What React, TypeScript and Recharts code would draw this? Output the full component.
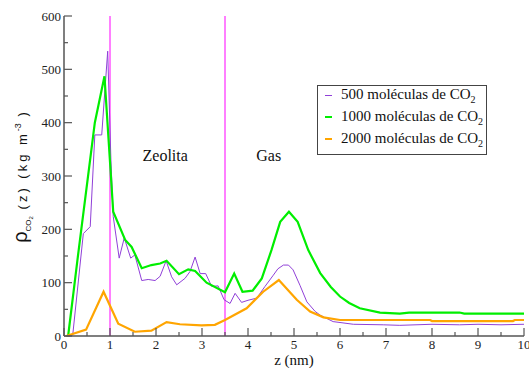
import React from 'react';
import { LineChart, Line, XAxis, YAxis, ReferenceLine, ReferenceDot, Legend, Label } from 'recharts';

const xTicks = [0, 0.5, 1, 1.5, 2, 2.5, 3, 3.5, 4, 4.5, 5, 5.5, 6, 6.5, 7, 7.5, 8, 8.5, 9, 9.5, 10];
const yTicks = [0, 50, 100, 150, 200, 250, 300, 350, 400, 450, 500, 550, 600];

const zeoliteBounds = [1, 3.5];

const s500X = [0.1, 0.19, 0.42, 0.57, 0.67, 0.82, 0.95, 1.02, 1.07, 1.2, 1.31, 1.45, 1.54, 1.69, 1.83, 1.98, 2.09, 2.22, 2.34, 2.45, 2.63, 2.74, 2.85, 2.96, 3.08, 3.21, 3.35, 3.48, 3.61, 3.72, 3.86, 4.0, 4.19, 4.37, 4.55, 4.65, 4.77, 4.88, 4.98, 5.13, 5.28, 5.46, 5.57, 5.85, 6.29, 6.94, 7.3, 8.0, 8.6, 9.0, 9.5, 10];
const s500Y = [0, 2, 192, 205, 377, 377, 534, 330, 224, 146, 184, 146, 152, 104, 106, 104, 112, 141, 111, 96, 108, 121, 148, 117, 117, 93, 94, 68, 61, 80, 63, 67, 71, 93, 114, 126, 133, 133, 124, 95, 64, 46, 39, 27, 22, 21, 20, 22, 21, 22, 21, 22];

const s1000X = [0.09, 0.3, 0.67, 0.88, 1.07, 1.33, 1.47, 1.69, 1.9, 2.09, 2.23, 2.5, 2.7, 2.85, 3.1, 3.5, 3.7, 3.88, 4.1, 4.3, 4.51, 4.7, 4.89, 5.08, 5.31, 5.57, 5.8, 6.0, 6.2, 6.43, 6.87, 7.3, 7.5, 8.6, 8.7, 10];
const s1000Y = [0, 148, 400, 487, 233, 180, 167, 127, 133, 136, 141, 116, 125, 122, 100, 82, 117, 83, 85, 108, 161, 214, 233, 214, 161, 118, 92, 74, 62, 52, 44, 42, 44, 44, 42, 42];

const s2000X = [0.05, 0.48, 0.86, 1.18, 1.54, 1.9, 2.23, 2.52, 2.99, 3.28, 3.5, 3.97, 4.33, 4.67, 5.06, 5.35, 5.64, 6.0, 7.96, 8.0, 9.76, 9.8, 10];
const s2000Y = [0, 12, 83, 23, 8, 10, 26, 22, 20, 21, 30, 52, 83, 105, 68, 46, 35, 30, 30, 28, 28, 30, 30];

const seriesNames = ['500 moléculas de CO', '1000 moléculas de CO', '2000 moléculas de CO'];
const seriesColors = ['#9040d8', '#00ee00', '#ffa500'];

const toPoints = (xs: number[], ys: number[]) => xs.map((x, i) => ({ x, y: ys[i] }));
const d500 = toPoints(s500X, s500Y);
const d1000 = toPoints(s1000X, s1000Y);
const d2000 = toPoints(s2000X, s2000Y);

const AX = '#555';
const SERIF = 'Liberation Serif, Times New Roman, serif';
const SANS = 'Liberation Sans, Arial, sans-serif';

const BottomTick = (p: any) => {
  const v = p.payload.value;
  const major = Number.isInteger(v);
  return (
    <g>
      <line x1={p.x} x2={p.x} y1={p.y} y2={p.y - (major ? 8 : 4)} stroke={AX} strokeWidth={1.2} />
      {major && (
        <text x={p.x} y={p.y + 13} textAnchor="middle" fontFamily={SERIF} fontSize={13} fill="#222">{v}</text>
      )}
    </g>
  );
};
const TopTick = (p: any) => {
  const major = Number.isInteger(p.payload.value);
  return <line x1={p.x} x2={p.x} y1={p.y} y2={p.y + (major ? 8 : 4)} stroke={AX} strokeWidth={1.2} />;
};
const LeftTick = (p: any) => {
  const v = p.payload.value;
  const major = v % 100 === 0;
  return (
    <g>
      <line x1={p.x} x2={p.x + (major ? 8 : 4)} y1={p.y} y2={p.y} stroke={AX} strokeWidth={1.2} />
      {major && (
        <text x={p.x - 3} y={p.y + 4.5} textAnchor="end" fontFamily={SERIF} fontSize={13} fill="#222">{v}</text>
      )}
    </g>
  );
};
const RightTick = (p: any) => {
  const major = p.payload.value % 100 === 0;
  return <line x1={p.x} x2={p.x - (major ? 8 : 4)} y1={p.y} y2={p.y} stroke={AX} strokeWidth={1.2} />;
};

const YLabel = () => (
  <text transform="translate(27,176) rotate(-90)" textAnchor="middle" fontFamily={SANS} fill="#111">
    <tspan fontSize={20}>ρ</tspan>
    <tspan fontSize={8} dy={4}>CO</tspan>
    <tspan fontSize={6} dy={2}>2</tspan>
    <tspan fontSize={13} dy={-6} letterSpacing={3}>{' (z)  (kg m'}</tspan>
    <tspan fontSize={9} dy={-6}>-3</tspan>
    <tspan fontSize={13} dy={6} letterSpacing={3}>{' )'}</tspan>
  </text>
);

const XLabel = (p: any) => {
  const vb = p.viewBox || {};
  const cx = (vb.x || 64) + (vb.width || 460) / 2;
  return (
    <text x={cx} y={365} textAnchor="middle" fontFamily={SERIF} fontSize={15} fill="#111">z (nm)</text>
  );
};

const AnnoLabel = (text: string) => (p: any) => {
  const vb = p.viewBox || {};
  return (
    <text x={vb.x} y={vb.y + 6} textAnchor="middle" fontFamily={SERIF} fontSize={16} fill="#111">{text}</text>
  );
};

const LegendBox = () => (
  <div
    style={{
      border: '1px solid #444',
      background: '#fff',
      width: 170,
      height: 70,
      boxSizing: 'border-box',
      padding: '0 0 0 7px',
      fontFamily: SERIF,
      fontSize: 15,
      color: '#111',
    }}
  >
    <div style={{ marginTop: -2 }}>
      {seriesNames.map((n, i) => (
        <div key={n} style={{ display: 'flex', alignItems: 'center', height: 22, whiteSpace: 'nowrap' }}>
          <span style={{ display: 'inline-block', width: 7, height: i === 0 ? 1 : 2, background: seriesColors[i], marginRight: 9 }} />
          <span>
            {n}
            <sub style={{ fontSize: 10, verticalAlign: -4 }}>2</sub>
          </span>
        </div>
      ))}
    </div>
  </div>
);

export default function App() {
  return (
    <div style={{ position: 'absolute', left: 0, top: 0, background: '#fff' }}>
      <LineChart width={529} height={368} margin={{ top: 16, right: 5, bottom: 0, left: 0 }}>
        <XAxis
          xAxisId="b"
          type="number"
          dataKey="x"
          domain={[0, 10]}
          ticks={xTicks}
          interval={0}
          height={32}
          tickSize={0}
          tickMargin={0}
          tickLine={false}
          axisLine={{ stroke: AX, strokeWidth: 1.5 }}
          tick={<BottomTick />}
          allowDataOverflow
        >
          <Label content={<XLabel />} />
        </XAxis>
        <XAxis
          xAxisId="t"
          orientation="top"
          type="number"
          dataKey="x"
          domain={[0, 10]}
          ticks={xTicks}
          interval={0}
          height={0}
          tickSize={0}
          tickMargin={0}
          tickLine={false}
          axisLine={{ stroke: AX, strokeWidth: 1.5 }}
          tick={<TopTick />}
        />
        <YAxis
          yAxisId="l"
          type="number"
          domain={[0, 600]}
          ticks={yTicks}
          interval={0}
          width={64}
          tickSize={0}
          tickMargin={0}
          tickLine={false}
          axisLine={{ stroke: AX, strokeWidth: 1.5 }}
          tick={<LeftTick />}
          label={<YLabel />}
        />
        <YAxis
          yAxisId="r"
          orientation="right"
          type="number"
          domain={[0, 600]}
          ticks={yTicks}
          interval={0}
          width={0}
          tickSize={0}
          tickMargin={0}
          tickLine={false}
          axisLine={{ stroke: AX, strokeWidth: 1.5 }}
          tick={<RightTick />}
        />
        {zeoliteBounds.map((b) => (
          <ReferenceLine key={b} xAxisId="b" yAxisId="l" x={b} stroke="#ff00ff" strokeWidth={1} />
        ))}
        <Line xAxisId="b" yAxisId="l" data={d500} dataKey="y" name={seriesNames[0]} stroke={seriesColors[0]} strokeWidth={1} dot={false} isAnimationActive={false} />
        <Line xAxisId="b" yAxisId="l" data={d1000} dataKey="y" name={seriesNames[1]} stroke={seriesColors[1]} strokeWidth={2.2} dot={false} isAnimationActive={false} />
        <Line xAxisId="b" yAxisId="l" data={d2000} dataKey="y" name={seriesNames[2]} stroke={seriesColors[2]} strokeWidth={2.2} dot={false} isAnimationActive={false} />
        <ReferenceDot xAxisId="b" yAxisId="l" x={2.2} y={340} r={0} stroke="none" fill="none">
          <Label content={AnnoLabel('Zeolita')} />
        </ReferenceDot>
        <ReferenceDot xAxisId="b" yAxisId="l" x={4.45} y={340} r={0} stroke="none" fill="none">
          <Label content={AnnoLabel('Gas')} />
        </ReferenceDot>
        <Legend
          layout="vertical"
          align="center"
          verticalAlign="middle"
          content={<LegendBox />}
          wrapperStyle={{ position: 'absolute', left: 317, top: 85, width: 170, height: 70 }}
        />
      </LineChart>
    </div>
  );
}
